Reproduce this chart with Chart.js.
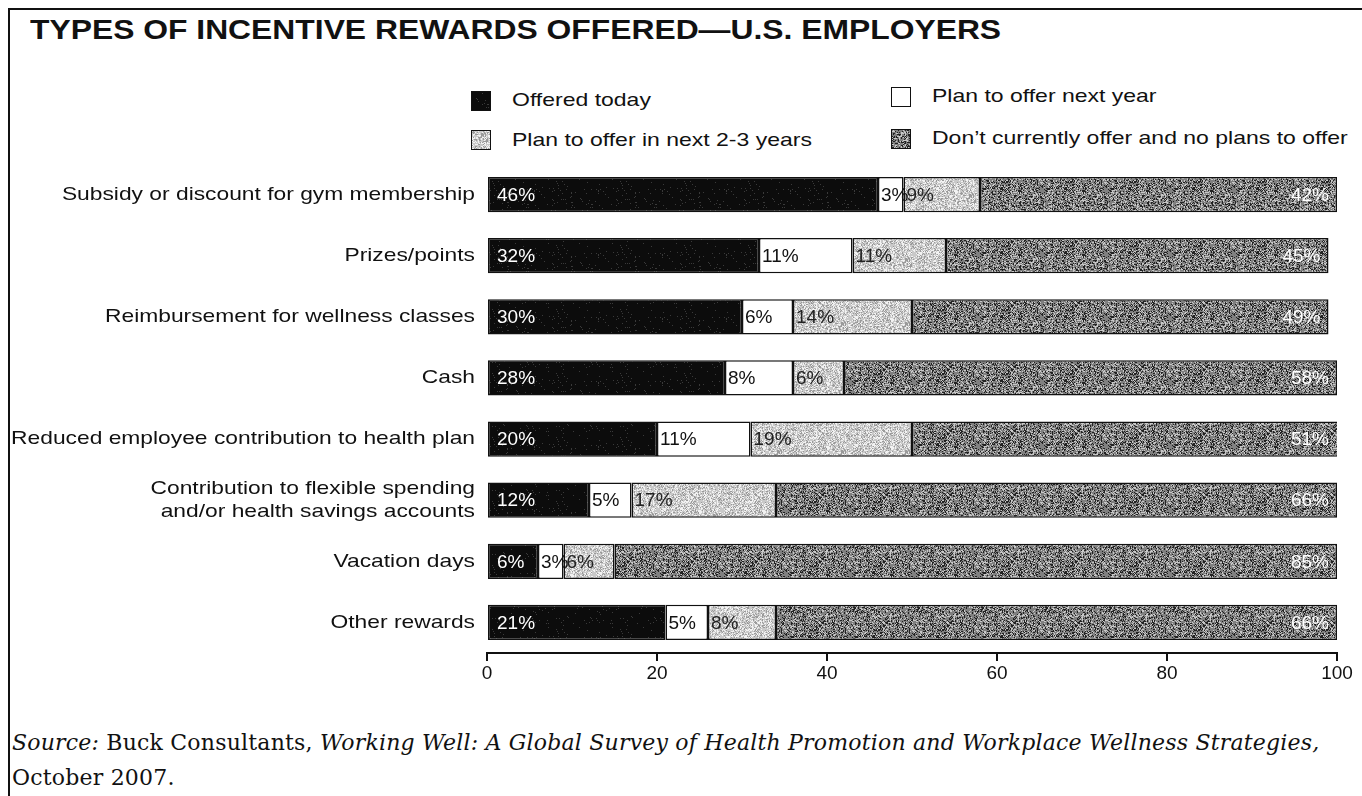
<!DOCTYPE html>
<html><head><meta charset="utf-8">
<script src="https://cdn.jsdelivr.net/npm/chart.js@4"></script>
<style>
html,body{margin:0;padding:0;background:#fff;width:1362px;height:796px;overflow:hidden;}
#frame{position:absolute;left:8px;top:8px;width:1400px;height:900px;border-left:2px solid #111;border-top:2px solid #111;}
#title{position:absolute;left:30px;top:14px;font:bold 28px "Liberation Sans",Arial,sans-serif;color:#111;white-space:nowrap;transform:scaleX(1.137);transform-origin:0 0;}
.lg{position:absolute;font:19px "Liberation Sans",Arial,sans-serif;color:#111;white-space:nowrap;transform:scaleX(1.21);transform-origin:0 0;}
.sw{position:absolute;width:20px;height:20px;box-sizing:border-box;border:1.5px solid #111;}
#src{position:absolute;left:12px;top:725px;font:22px "DejaVu Serif",serif;color:#111;line-height:35px;white-space:nowrap;letter-spacing:0.2px;}
#wrap{position:absolute;left:0;top:0;width:1362px;height:796px;}
</style></head>
<body>
<div id="frame"></div>
<div id="title">TYPES OF INCENTIVE REWARDS OFFERED—U.S. EMPLOYERS</div>
<div class="sw" id="sw0" style="left:471px;top:91px"></div><div class="lg" style="left:512px;top:89px">Offered today</div>
<div class="sw" id="sw1" style="left:891px;top:87px"></div><div class="lg" style="left:932px;top:85px">Plan to offer next year</div>
<div class="sw" id="sw2" style="left:471px;top:130px"></div><div class="lg" style="left:512px;top:129px">Plan to offer in next 2-3 years</div>
<div class="sw" id="sw3" style="left:891px;top:129px"></div><div class="lg" style="left:932px;top:127px">Don’t currently offer and no plans to offer</div>
<div id="src"><i>Source:</i> Buck Consultants, <i>Working Well: A Global Survey of Health Promotion and Workplace Wellness Strategies,</i><br>October 2007.</div>
<div id="wrap"><canvas id="c" width="1362" height="796"></canvas></div>
<script>
const categories = [
  "Subsidy or discount for gym membership",
  "Prizes/points",
  "Reimbursement for wellness classes",
  "Cash",
  "Reduced employee contribution to health plan",
  ["Contribution to flexible spending", "and/or health savings accounts"],
  "Vacation days",
  "Other rewards"
];
const seriesNames = ["Offered today", "Plan to offer next year", "Plan to offer in next 2-3 years", "Don’t currently offer and no plans to offer"];
const offeredToday   = [46, 32, 30, 28, 20, 12, 6, 21];
const planNextYear   = [3, 11, 6, 8, 11, 5, 3, 5];
const planNext2to3   = [9, 11, 14, 6, 19, 17, 6, 8];
const noPlans        = [42, 45, 49, 58, 51, 66, 85, 66];
const xTicks = [0, 20, 40, 60, 80, 100];

// deterministic speckle textures (styling only)
function makePattern(base, specks) {
  const cv = document.createElement('canvas');
  cv.width = 64; cv.height = 64;
  const g = cv.getContext('2d');
  g.fillStyle = base; g.fillRect(0, 0, 64, 64);
  let s = 12345;
  const rnd = () => { s = (s * 1103515245 + 12345) & 0x7fffffff; return s / 0x7fffffff; };
  for (let i = 0; i < 64 * 64; i++) {
    const r = rnd();
    let acc = 0;
    for (const [col, p] of specks) {
      acc += p;
      if (r < acc) { g.fillStyle = col; g.fillRect(i % 64, Math.floor(i / 64), 1, 1); break; }
    }
  }
  return cv;
}
const texBlack = makePattern('#0c0c0c', [['#3a3a3a', 0.03]]);
const texWhite = makePattern('#ffffff', []);
const texLight = makePattern('#c9c9c9', [['#f2f2f2', 0.28], ['#9a9a9a', 0.22]]);
const texDark  = makePattern('#808080', [['#222222', 0.25], ['#c8c8c8', 0.22]]);
const ctx = document.getElementById('c').getContext('2d');
const pats = [texBlack, texWhite, texLight, texDark].map(t => ctx.createPattern(t, 'repeat'));
[texBlack, texWhite, texLight, texDark].forEach((t, i) => {
  document.getElementById('sw' + i).style.background = 'url(' + t.toDataURL() + ')';
});

const labelStyles = [
  {color: '#fff', align: 'left'},
  {color: '#111', align: 'left'},
  {color: '#222', align: 'left'},
  {color: '#fff', align: 'right'}
];

// wide lettering for the category axis: horizontal stretch anchored at the label's right edge
const LABEL_RIGHT = 475, STRETCH = 1.2;
const stretchY = {
  id: 'stretchY',
  beforeDraw(chart) { const c = chart.ctx; c.save(); c.setTransform(STRETCH, 0, 0, 1, LABEL_RIGHT * (1 - STRETCH), 0); },
  beforeDatasetsDraw(chart) { chart.ctx.restore(); }
};

const barLabels = {
  id: 'barLabels',
  afterDatasetsDraw(chart) {
    const c = chart.ctx;
    c.save();
    c.font = '19px "Liberation Sans", Arial, sans-serif';
    c.textBaseline = 'middle';
    chart.data.datasets.forEach((ds, di) => {
      const meta = chart.getDatasetMeta(di);
      meta.data.forEach((el, i) => {
        const v = ds.data[i];
        const st = labelStyles[di];
        const left = Math.min(el.x, el.base), right = Math.max(el.x, el.base);
        c.fillStyle = st.color;
        if (st.align === 'left') { c.textAlign = 'left'; c.fillText(v + '%', left + (di === 0 ? 9 : 3), el.y + 1); }
        else { c.textAlign = 'right'; c.fillText(v + '%', Math.min(right, chart.chartArea.right) - 8, el.y + 1); }
      });
    });
    c.restore();
  }
};

const values = [offeredToday, planNextYear, planNext2to3, noPlans];
new Chart(ctx, {
  type: 'bar',
  data: {
    labels: categories,
    datasets: values.map((d, i) => ({
      label: seriesNames[i],
      data: d,
      backgroundColor: pats[i],
      borderColor: '#111',
      borderWidth: 1.5,
      borderSkipped: false,
      barPercentage: 0.9,
      categoryPercentage: 0.64
    }))
  },
  options: {
    indexAxis: 'y',
    responsive: false,
    animation: false,
    devicePixelRatio: 1,
    layout: {padding: {left: 0, right: 25, top: 164, bottom: 0}},
    plugins: {legend: {display: false}, tooltip: {enabled: false}},
    scales: {
      x: {
        stacked: true, min: 0, max: 100,
        afterBuildTicks(s) { s.ticks = xTicks.map(v => ({value: v})); },
        afterFit(s) { s.height = 796 - 164 - 489; },
        grid: {display: true, drawOnChartArea: false, drawTicks: true, tickLength: 8, color: '#111', lineWidth: 2, z: 1},
        border: {display: true, color: '#111', width: 2, z: 1},
        ticks: {color: '#111', font: {family: '"Liberation Sans", Arial, sans-serif', size: 19}, padding: 1, maxRotation: 0, z: 1}
      },
      y: {
        stacked: true,
        afterFit(s) { s.width = 487; },
        grid: {display: false, drawTicks: false},
        border: {display: false},
        ticks: {color: '#111', font: {family: '"Liberation Sans", Arial, sans-serif', size: 19, lineHeight: 1.2}, padding: 12}
      }
    }
  },
  plugins: [stretchY, barLabels]
});
</script>
</body></html>
